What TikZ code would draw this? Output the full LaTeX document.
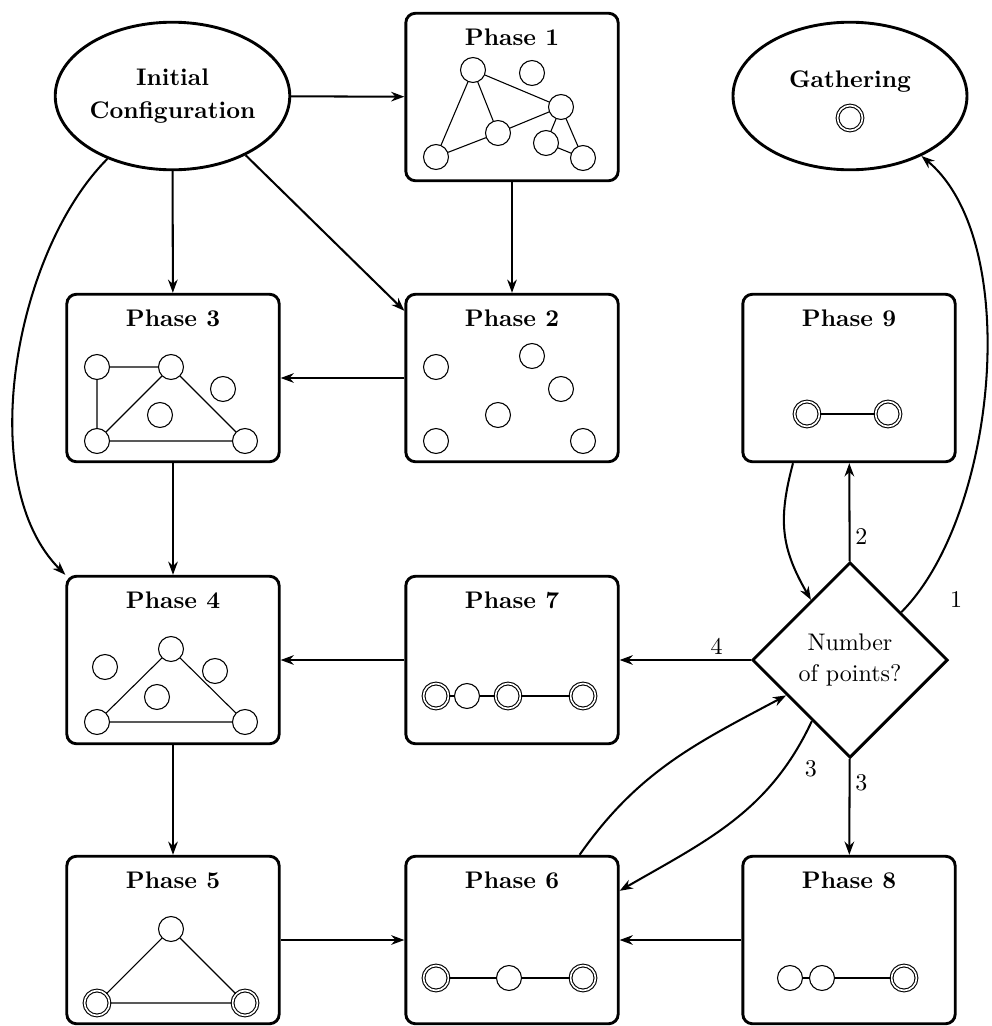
\documentclass[tikz,border=0pt]{standalone}
\usetikzlibrary{shapes.geometric,arrows.meta,calc}
\begin{document}
\begin{tikzpicture}[x=0.4167pt,y=-0.4167pt,
 box/.style={draw, rounded corners=4pt, line width=1.2pt, minimum width=88.5pt, minimum height=69.8pt, inner sep=0pt},
 oval/.style={ellipse, draw, line width=1.2pt, minimum width=97.5pt, minimum height=61.5pt, inner sep=0pt, align=center, font=\bfseries},
 dec/.style={diamond, draw, line width=1.2pt, minimum width=81.5pt, minimum height=81.5pt, inner sep=0pt, align=center},
 ttl/.style={font=\bfseries, inner sep=0pt},
 pt/.style={circle, draw, line width=0.45pt, minimum size=10.4pt, inner sep=0pt},
 dpt/.style={pt, double, double distance=0.7pt},
 ln/.style={line width=0.45pt},
 tk/.style={line width=0.9pt},
 arr/.style={line width=0.85pt, -{Stealth[length=5.5pt,width=4pt]}},
 lab/.style={inner sep=2pt}
]
\useasboundingbox (0,0) rectangle (992,1026);

% main nodes
\node[oval] (init) at (172.5,96) {Initial\\[2pt]Configuration};
\node[oval] (gath) at (850,96) {};
\node[ttl] (gtxt) at (850,82) {Gathering};
\node[dpt] (gpt) at (850,118) {};

\node[box] (p1) at (512,97) {};
\node[box] (p2) at (512,378) {};
\node[box] (p3) at (173,378) {};
\node[box] (p9) at (849,378) {};
\node[box] (p4) at (173,660) {};
\node[box] (p7) at (512,660) {};
\node[box] (p5) at (173,940) {};
\node[box] (p6) at (512,940) {};
\node[box] (p8) at (849,940) {};
\node[dec] (dia) at (850,660) {Number\\[1pt]of points?};

% titles
\node[ttl] (t1) at ($(p1.north)+(0,25)$) {Phase 1};
\node[ttl] (t2) at ($(p2.north)+(0,25)$) {Phase 2};
\node[ttl] (t3) at ($(p3.north)+(0,25)$) {Phase 3};
\node[ttl] (t4) at ($(p4.north)+(0,25)$) {Phase 4};
\node[ttl] (t5) at ($(p5.north)+(0,25)$) {Phase 5};
\node[ttl] (t6) at ($(p6.north)+(0,25)$) {Phase 6};
\node[ttl] (t7) at ($(p7.north)+(0,25)$) {Phase 7};
\node[ttl] (t8) at ($(p8.north)+(0,25)$) {Phase 8};
\node[ttl] (t9) at ($(p9.north)+(0,25)$) {Phase 9};

% Phase 1
\node[pt] (p1a) at (473,70) {};
\node[pt] (p1b) at (532,73) {};
\node[pt] (p1c) at (561,107) {};
\node[pt] (p1d) at (498,133) {};
\node[pt] (p1e) at (546,143) {};
\node[pt] (p1f) at (436,157) {};
\node[pt] (p1g) at (583,158) {};
\draw[ln] (p1a) -- (p1f) (p1a) -- (p1d) (p1a) -- (p1c) (p1d) -- (p1f)
          (p1d) -- (p1c) (p1c) -- (p1e) (p1c) -- (p1g) (p1e) -- (p1g);

% Phase 2
\node[pt] (p2a) at (436,367) {};
\node[pt] (p2b) at (532,356) {};
\node[pt] (p2c) at (561,389) {};
\node[pt] (p2d) at (498,415) {};
\node[pt] (p2e) at (436,441) {};
\node[pt] (p2f) at (583,441) {};

% Phase 3
\node[pt] (p3a) at (97,367) {};
\node[pt] (p3b) at (171,367) {};
\node[pt] (p3c) at (223,389) {};
\node[pt] (p3d) at (160,415) {};
\node[pt] (p3e) at (97,441) {};
\node[pt] (p3f) at (245,441) {};
\draw[ln] (p3a) -- (p3b) (p3a) -- (p3e) (p3b) -- (p3e) (p3b) -- (p3f) (p3e) -- (p3f);

% Phase 4
\node[pt] (p4a) at (105,667) {};
\node[pt] (p4b) at (171,649) {};
\node[pt] (p4c) at (215,671) {};
\node[pt] (p4d) at (157,697) {};
\node[pt] (p4e) at (97,722) {};
\node[pt] (p4f) at (245,722) {};
\draw[ln] (p4b) -- (p4e) (p4b) -- (p4f) (p4e) -- (p4f);

% Phase 5
\node[pt] (p5a) at (171,929) {};
\node[dpt] (p5b) at (97,1003) {};
\node[dpt] (p5c) at (245,1003) {};
\draw[ln] (p5a) -- (p5b) (p5a) -- (p5c) (p5b) -- (p5c);

% Phase 6
\node[dpt] (p6a) at (436,978) {};
\node[pt] (p6b) at (509,978) {};
\node[dpt] (p6c) at (583,978) {};
\draw[tk] (p6a) -- (p6b) (p6b) -- (p6c);

% Phase 7
\node[dpt] (p7a) at (436,696) {};
\node[pt] (p7b) at (467,696) {};
\node[dpt] (p7c) at (508,696) {};
\node[dpt] (p7d) at (583,696) {};
\draw[tk] (p7a) -- (p7b) (p7b) -- (p7c) (p7c) -- (p7d);

% Phase 8
\node[pt] (p8a) at (790,978) {};
\node[pt] (p8b) at (822,978) {};
\node[dpt] (p8c) at (904,978) {};
\draw[ln] (p8a) -- (p8b) (p8b) -- (p8c);

% Phase 9
\node[dpt] (p9a) at (807,414) {};
\node[dpt] (p9b) at (888,414) {};
\draw[ln] (p9a) -- (p9b);

% connectors
\draw[arr] (init) -- (p1);
\draw[arr] (init) -- (p3);
\draw[arr] (init.-39) -- ($(p2.north west)+(0,18)$);
\draw[arr] (init.224) to[out=225,in=135,looseness=0.8] (p4.north west);
\draw[arr] (p1) -- (p2);
\draw[arr] (p2) -- (p3);
\draw[arr] (p3) -- (p4);
\draw[arr] (p4) -- (p5);
\draw[arr] (p5) -- (p6);
\draw[arr] (p8) -- (p6);
\draw[arr] (p7) -- (p4);
\draw[arr] (dia) -- node[pos=0.26,above,lab]{4} (p7);
\draw[arr] (dia) -- node[pos=0.25,right,lab]{2} (p9);
\draw[arr] (dia) -- node[pos=0.25,right,lab]{3} (p8);
\draw[arr] (dia.43) to[out=45,in=-40,looseness=0.75] node[pos=0.04,right=12pt]{1} (gath.-40);
\draw[arr] ($(p9.south)+(-56,0)$) to[out=255,in=120,looseness=1.1] (dia.123);
\draw[arr] (dia.238) to[out=245,in=30] node[pos=0.2,right=5pt]{3} ($(p6.north east)+(0,36)$);
\draw[arr] ($(p6.north east)+(-40,0)$) to[out=55,in=208] (dia.209);
\end{tikzpicture}
\end{document}
